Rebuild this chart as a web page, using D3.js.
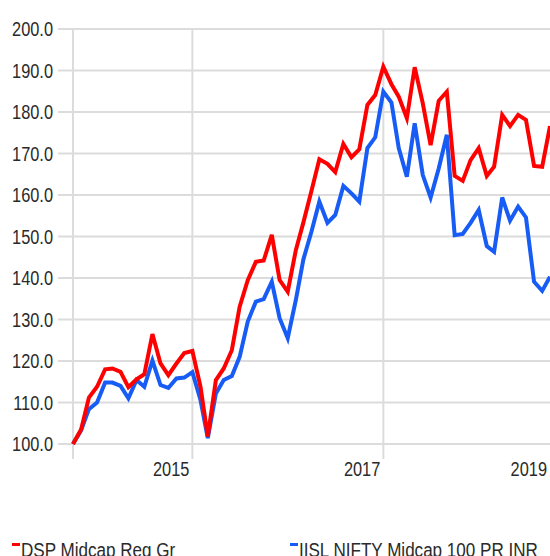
<!DOCTYPE html>
<html>
<head>
	<meta charset="utf-8">
	<script src="https://cdnjs.cloudflare.com/ajax/libs/d3/7.8.5/d3.min.js" charset="utf-8"></script>
	<style>
		body {
		  margin: 0;
		  background: #fff;
		}
		svg text {
		  font-family: 'Liberation Sans', Arial, sans-serif;
		  font-size: 19.5px;
		  fill: #2a2a2a;
		}
		.grid line {
		  stroke: #dcdcdc;
		  stroke-width: 2;
		}
		.series {
		  fill: none;
		  stroke-width: 4;
		  stroke-linejoin: miter;
		}
	</style>
</head>
<body>

<div id="chart"></div>

<script>

///////////////////////////////////////////////////
/////////////////// The data //////////////////////
///////////////////////////////////////////////////

//Monthly growth of 100, starting October 2013
var startMonth = "2013-10";

var fundValues = [
	100.0, 103.5, 111.2, 113.8, 118.0, 118.2, 117.4, 113.7, 115.6, 116.8,
	126.5, 119.4, 116.6, 119.4, 121.9, 122.4, 113.8, 101.8, 115.4, 118.2,
	122.6, 133.1, 139.5, 143.9, 144.2, 150.4, 139.5, 136.7, 146.7, 153.4,
	161.0, 168.6, 167.5, 165.5, 172.3, 169.1, 171.0, 181.7, 184.1, 190.9,
	186.7, 183.7, 178.5, 190.8, 182.1, 172.0, 182.7, 184.9, 164.6, 163.4,
	168.4, 171.3, 164.6, 166.8, 179.3, 176.6, 179.3, 178.1, 167.0, 166.8,
	176.6];

var indexValues = [
	100.0, 103.3, 108.4, 110.0, 114.8, 114.8, 114.0, 111.0, 115.4, 113.8,
	120.1, 114.2, 113.5, 115.8, 116.0, 117.3, 110.6, 101.4, 112.2, 115.4,
	116.4, 121.0, 129.5, 134.3, 134.9, 139.1, 130.3, 125.5, 134.7, 144.5,
	151.2, 158.4, 153.3, 155.2, 162.2, 160.4, 158.4, 171.3, 173.9, 184.9,
	182.3, 171.3, 164.4, 177.3, 164.8, 159.4, 166.4, 174.5, 150.3, 150.6,
	153.3, 156.4, 147.7, 146.3, 159.4, 153.8, 157.2, 154.6, 139.1, 136.9,
	140.3];

var seriesNames = ["DSP Midcap Reg Gr", "IISL NIFTY Midcap 100 PR INR"];
var seriesColors = ["#ff0000", "#175cf5"];

var yTicks = [100, 110, 120, 130, 140, 150, 160, 170, 180, 190, 200];
var xTickYears = ["2015", "2017", "2019"];

///////////////////////////////////////////////////
//////////////// Set the Scales ///////////////////
///////////////////////////////////////////////////

var W = 550, H = 556;
var plot = {left: 73, right: 550, top: 29, bottom: 444};

//The chart uses a narrow face; squeeze the text horizontally
function place(px, py, sx) {
	return "translate(" + px + "," + py + ") scale(" + (sx || 0.84) + ",1)";
}

var parseMonth = d3.timeParse("%Y-%m");
var start = parseMonth(startMonth);
var dates = fundValues.map(function(d, i) { return d3.timeMonth.offset(start, i); });

var x = d3.scaleTime()
	.domain([dates[0], dates[dates.length - 1]])
	.range([plot.left, plot.right]);

var y = d3.scaleLinear()
	.domain([100, 200])
	.range([plot.bottom, plot.top]);

///////////////////////////////////////////////////
////////////// Initialize the SVG /////////////////
///////////////////////////////////////////////////

var svg = d3.select("#chart")
	.append("svg")
		.attr("width", W)
		.attr("height", H);

///////////////////////////////////////////////////
/////////////////// Gridlines /////////////////////
///////////////////////////////////////////////////

var grid = svg.append("g").attr("class", "grid");

//Horizontal lines, running out a bit past the left edge
grid.selectAll(".hline")
	.data(yTicks)
   .enter().append("line")
	.attr("class", "hline")
	.attr("x1", plot.left - 15)
	.attr("x2", plot.right)
	.attr("y1", function(d) { return y(d); })
	.attr("y2", function(d) { return y(d); });

//Vertical lines: the start of the range plus every labelled year inside it
var xTickDates = xTickYears.map(function(d) { return d3.timeParse("%Y")(d); });
var vlines = [x.domain()[0]].concat(xTickDates.filter(function(d) { return d <= x.domain()[1]; }));

grid.selectAll(".vline")
	.data(vlines)
   .enter().append("line")
	.attr("class", "vline")
	.attr("x1", function(d) { return x(d); })
	.attr("x2", function(d) { return x(d); })
	.attr("y1", plot.top)
	.attr("y2", plot.bottom + 15);

///////////////////////////////////////////////////
/////////////////// Axis text /////////////////////
///////////////////////////////////////////////////

svg.selectAll(".ylabel")
	.data(yTicks)
   .enter().append("text")
	.attr("class", "ylabel")
	.attr("transform", function(d) { return place(53, y(d)); })
	.attr("dy", "0.36em")
	.style("text-anchor", "end")
	.text(function(d) { return d3.format(".1f")(d); });

//Year labels sit just left of their gridline, kept inside the chart
svg.selectAll(".xlabel")
	.data(xTickDates)
   .enter().append("text")
	.attr("class", "xlabel")
	.attr("transform", function(d) { return place(Math.min(x(d), W) - 3, 476); })
	.style("text-anchor", "end")
	.text(function(d) { return d3.timeFormat("%Y")(d); });

///////////////////////////////////////////////////
//////////////////// Lines ////////////////////////
///////////////////////////////////////////////////

var line = d3.line()
	.x(function(d, i) { return x(dates[i]); })
	.y(function(d) { return y(d); });

//Index first so the fund line lies on top
svg.append("path")
	.attr("class", "series")
	.attr("d", line(indexValues))
	.style("stroke", seriesColors[1]);

svg.append("path")
	.attr("class", "series")
	.attr("d", line(fundValues))
	.style("stroke", seriesColors[0]);

///////////////////////////////////////////////////
/////////////////// Legend ////////////////////////
///////////////////////////////////////////////////

var legendX = [12, 290];

var legend = svg.selectAll(".legend")
	.data(seriesNames)
   .enter().append("g")
	.attr("class", "legend")
	.attr("transform", function(d, i) { return "translate(" + legendX[i] + ",0)"; });

legend.append("rect")
	.attr("x", 0)
	.attr("y", 543)
	.attr("width", 8)
	.attr("height", 3)
	.style("fill", function(d, i) { return seriesColors[i]; });

legend.append("text")
	.attr("transform", place(9, 557, 0.875))
	.text(function(d) { return d; });

</script>
</body>
</html>
